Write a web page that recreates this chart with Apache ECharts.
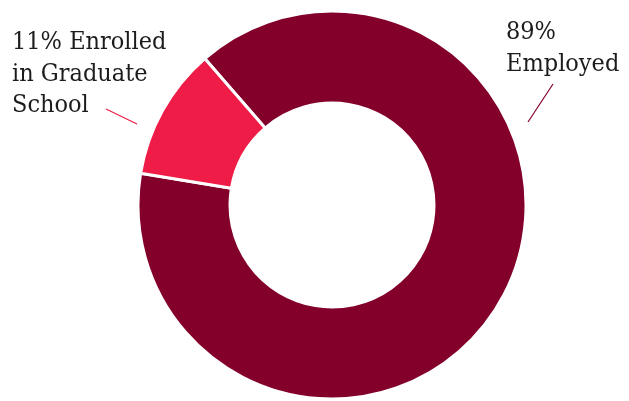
<!DOCTYPE html>
<html><head><meta charset="utf-8">
<script src="https://cdn.jsdelivr.net/npm/echarts@6/dist/echarts.min.js"></script>
<style>html,body{margin:0;padding:0;background:#fff}#c{width:629px;height:401px}</style>
</head><body><div id="c"></div>
<script>
const categories = ['Employed', 'Enrolled in Graduate School'];
const values = [89, 11];
const labelTexts = ['89%\nEmployed', '11% Enrolled\nin Graduate\nSchool'];
const colors = ['#83002a', '#ee1c46'];

const chart = echarts.init(document.getElementById('c'));
const labelPos = [{x: 506, y: 17}, {x: 12, y: 27}];
chart.setOption({
  animation: false,
  series: [{
    type: 'pie',
    center: [332, 205],
    radius: [102, 194],
    startAngle: 131,
    clockwise: true,
    silent: true,
    itemStyle: {borderColor: '#fff', borderWidth: 3},
    label: {
      show: true,
      formatter: p => labelTexts[p.dataIndex],
      fontFamily: '"DejaVu Serif Condensed", "DejaVu Serif"',
      fontSize: 25,
      lineHeight: 31.5,
      color: '#1e1b1c',
      align: 'left',
      overflow: 'none',
      width: 200
    },
    labelLine: {show: false},
    labelLayout: p => ({x: labelPos[p.dataIndex].x, y: labelPos[p.dataIndex].y, align: 'left', verticalAlign: 'top'}),
    data: categories.map((c, i) => ({name: c, value: values[i], itemStyle: {color: colors[i]}}))
  }],
  graphic: [
    {type: 'line', shape: {x1: 528, y1: 122, x2: 553, y2: 84}, style: {stroke: colors[0], lineWidth: 1.2}},
    {type: 'line', shape: {x1: 106, y1: 109, x2: 137, y2: 124}, style: {stroke: colors[1], lineWidth: 1.2}}
  ]
});
</script></body></html>
